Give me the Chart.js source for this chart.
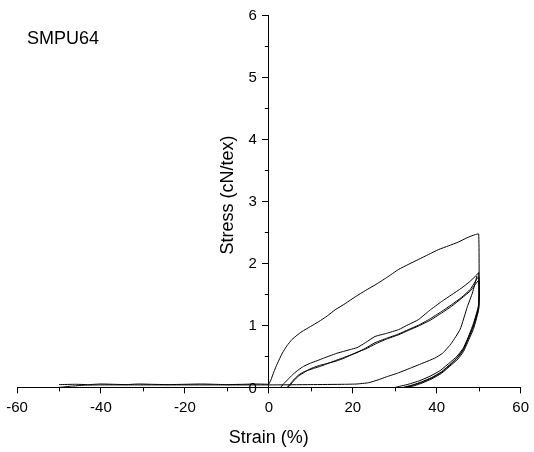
<!DOCTYPE html>
<html><head><meta charset="utf-8">
<script src="https://cdn.jsdelivr.net/npm/chart.js@4/dist/chart.umd.min.js"></script>
<style>html,body{margin:0;padding:0;background:#fff;}#wrap{width:534px;height:452px;}</style>
</head><body><div id="wrap"><canvas id="c" width="534" height="452"></canvas></div>
<script>
// ---- text ----
const sampleLabel = 'SMPU64';
const xTitle = 'Strain (%)';
const yTitle = 'Stress (cN/tex)';
// ---- axis ticks ----
const xTicks = [-60, -40, -20, 0, 20, 40, 60];
const xMinorTicks = [-50, -30, -10, 10, 30, 50];
const yTicks = [0, 1, 2, 3, 4, 5, 6];
const yMinorTicks = [0.5, 1.5, 2.5, 3.5, 4.5, 5.5];
// ---- data (strain %, stress cN/tex) ----
// cycle 1 loading + unloading
const c1X = [0, 0.5, 1.2, 2, 3.2, 4.3, 5.5, 6.7, 7.9, 9.9, 11.9, 13.9, 15.8, 18.2, 20.6, 23, 25.3, 28.1, 30.9, 33.2, 35.6, 38, 40.4, 42.8, 45.1, 47.2, 49.1, 50, 50, 48.7, 47.5, 46.3, 44.8, 43.3, 40.8, 38.4, 36, 33.2, 30.1];
const c1Y = [0.05, 0.12, 0.25, 0.38, 0.55, 0.67, 0.77, 0.84, 0.90, 0.98, 1.06, 1.15, 1.25, 1.35, 1.46, 1.56, 1.65, 1.77, 1.90, 1.98, 2.06, 2.14, 2.22, 2.28, 2.34, 2.41, 2.46, 2.47, 1.34, 1.02, 0.81, 0.63, 0.50, 0.41, 0.27, 0.18, 0.11, 0.05, 0];
// cycle 2 reloading + unloading
const c2X = [2.8, 3.3, 4.0, 5.0, 5.9, 7.0, 8.3, 9.9, 11.5, 13, 14.6, 16.2, 17.8, 19.4, 21, 23, 25.3, 28, 30.9, 33.2, 35.6, 38.3, 41.1, 43.5, 45.9, 47.8, 49.5, 50, 50, 48.7, 47.5, 46.3, 45, 43.5, 41.1, 38.8, 36.4, 34.3, 32.0];
const c2Y = [0, 0.04, 0.09, 0.16, 0.22, 0.28, 0.34, 0.39, 0.43, 0.47, 0.51, 0.55, 0.58, 0.61, 0.64, 0.72, 0.82, 0.87, 0.93, 1.01, 1.09, 1.24, 1.38, 1.49, 1.60, 1.70, 1.81, 1.85, 1.30, 0.99, 0.79, 0.61, 0.49, 0.39, 0.25, 0.16, 0.09, 0.04, 0];
// cycle 3 reloading + unloading
const c3X = [4.35, 4.9, 5.5, 6.3, 7.1, 8.3, 9.5, 10.9, 12.3, 13.5, 14.6, 16.2, 17.8, 19.4, 21, 23, 25.3, 28, 30.9, 33.2, 35.6, 38.3, 41.1, 43.5, 45.9, 48, 50, 50, 48.7, 47.5, 46.3, 45, 43.5, 41.1, 38.8, 36.4, 34.6, 32.5];
const c3Y = [0, 0.04, 0.09, 0.15, 0.20, 0.25, 0.28, 0.31, 0.34, 0.37, 0.40, 0.44, 0.48, 0.52, 0.56, 0.63, 0.72, 0.79, 0.86, 0.93, 1.00, 1.10, 1.22, 1.33, 1.45, 1.58, 1.78, 1.28, 0.97, 0.78, 0.60, 0.48, 0.38, 0.24, 0.15, 0.08, 0.04, 0];
// cycle 4 reloading + unloading
const c4X = [4.4, 5.0, 5.6, 6.4, 7.2, 8.4, 9.6, 11, 12.4, 13.6, 14.7, 16.3, 17.9, 19.5, 21.1, 23.1, 25.4, 28.1, 31, 33.3, 35.7, 38.4, 41.2, 43.6, 46, 48.1, 50, 50, 48.8, 47.6, 46.4, 45.1, 43.6, 41.2, 38.9, 36.5, 34.8, 33.0];
const c4Y = [0, 0.03, 0.08, 0.14, 0.19, 0.24, 0.29, 0.33, 0.36, 0.38, 0.40, 0.43, 0.47, 0.52, 0.57, 0.62, 0.70, 0.78, 0.85, 0.92, 0.99, 1.08, 1.20, 1.31, 1.44, 1.56, 1.72, 1.26, 0.95, 0.76, 0.58, 0.46, 0.37, 0.23, 0.14, 0.07, 0.03, 0];
// flat trace on the negative side (outgoing)
const leftX = [0, -3, -6, -10, -13, -16, -20, -24, -28, -31, -34, -37, -40, -43, -46, -50];
const leftY = [0.05, 0.055, 0.05, 0.045, 0.05, 0.055, 0.05, 0.045, 0.05, 0.055, 0.045, 0.05, 0.055, 0.045, 0.05, 0.045];
// returning trace to the final peak
const retX = [-50, -47, -44, -40, -30, -20, -10, 0, 10, 18, 21, 23.7, 26, 28, 30.7, 33.7, 37, 39.5, 41.4, 43.5, 45.6, 47.3, 48.5, 49.6];
const retY = [0.0, 0.02, 0.035, 0.04, 0.04, 0.04, 0.04, 0.04, 0.045, 0.05, 0.055, 0.075, 0.12, 0.17, 0.23, 0.31, 0.40, 0.47, 0.55, 0.71, 0.94, 1.30, 1.52, 1.80];

const FONT = "'Liberation Sans', Arial, Helvetica, sans-serif";
function pts(xs, ys) { return xs.map((x, i) => ({x: x, y: ys[i]})); }
const series = [[c1X, c1Y], [c2X, c2Y], [c3X, c3Y], [c4X, c4Y], [leftX, leftY], [retX, retY]];

const decor = {
  id: 'decor',
  afterDraw(chart) {
    const ctx = chart.ctx, xs = chart.scales.x, ys = chart.scales.y;
    const x0 = xs.getPixelForValue(0), yb = ys.getPixelForValue(0);
    ctx.save();
    ctx.strokeStyle = '#000'; ctx.lineWidth = 1;
    ctx.beginPath();
    xMinorTicks.forEach(v => { const p = Math.round(xs.getPixelForValue(v)) + 0.5; ctx.moveTo(p, yb); ctx.lineTo(p, yb + 4); });
    yMinorTicks.forEach(v => { const p = Math.round(ys.getPixelForValue(v)) + 0.5; ctx.moveTo(x0, p); ctx.lineTo(x0 - 4, p); });
    ctx.stroke();
    ctx.fillStyle = '#000';
    // y tick labels, left of the centred axis
    ctx.font = '15px ' + FONT;
    ctx.textAlign = 'right'; ctx.textBaseline = 'middle';
    yTicks.forEach(v => { ctx.fillText(String(v), x0 - 12, ys.getPixelForValue(v) + 1); });
    ctx.font = '18px ' + FONT;
    ctx.textAlign = 'left'; ctx.textBaseline = 'middle';
    ctx.fillText(sampleLabel, 27, 39);
    ctx.translate(228, 195);
    ctx.rotate(-Math.PI / 2);
    ctx.textAlign = 'center';
    ctx.fillText(yTitle, 0, 0);
    ctx.restore();
  }
};

new Chart(document.getElementById('c'), {
  type: 'scatter',
  data: {
    datasets: series.map(s => ({
      data: pts(s[0], s[1]), showLine: true, borderColor: '#000', borderWidth: 1,
      pointRadius: 0, tension: 0.15, fill: false
    }))
  },
  options: {
    responsive: false, animation: false, devicePixelRatio: 1,
    layout: {padding: {left: 17, right: 11, top: 15, bottom: 3}},
    plugins: {legend: {display: false}, tooltip: {enabled: false}, title: {display: false}},
    scales: {
      x: {
        type: 'linear', min: -60, max: 60,
        afterBuildTicks: s => { s.ticks = xTicks.map(v => ({value: v})); },
        ticks: {color: '#000', font: {family: FONT, size: 15}, padding: 5, maxRotation: 0, autoSkip: false},
        grid: {drawOnChartArea: false, drawTicks: true, tickLength: 6, color: '#000', tickColor: '#000'},
        border: {display: true, color: '#000', width: 1},
        title: {display: true, text: xTitle, color: '#000', font: {family: FONT, size: 18}, padding: {top: 6, bottom: 0}}
      },
      y: {
        type: 'linear', min: 0, max: 6, position: {x: 0},
        afterBuildTicks: s => { s.ticks = yTicks.map(v => ({value: v})); },
        ticks: {display: false},
        grid: {drawOnChartArea: false, drawTicks: true, tickLength: 6, color: '#000', tickColor: '#000'},
        border: {display: true, color: '#000', width: 1}
      }
    }
  },
  plugins: [decor]
});
</script></body></html>
